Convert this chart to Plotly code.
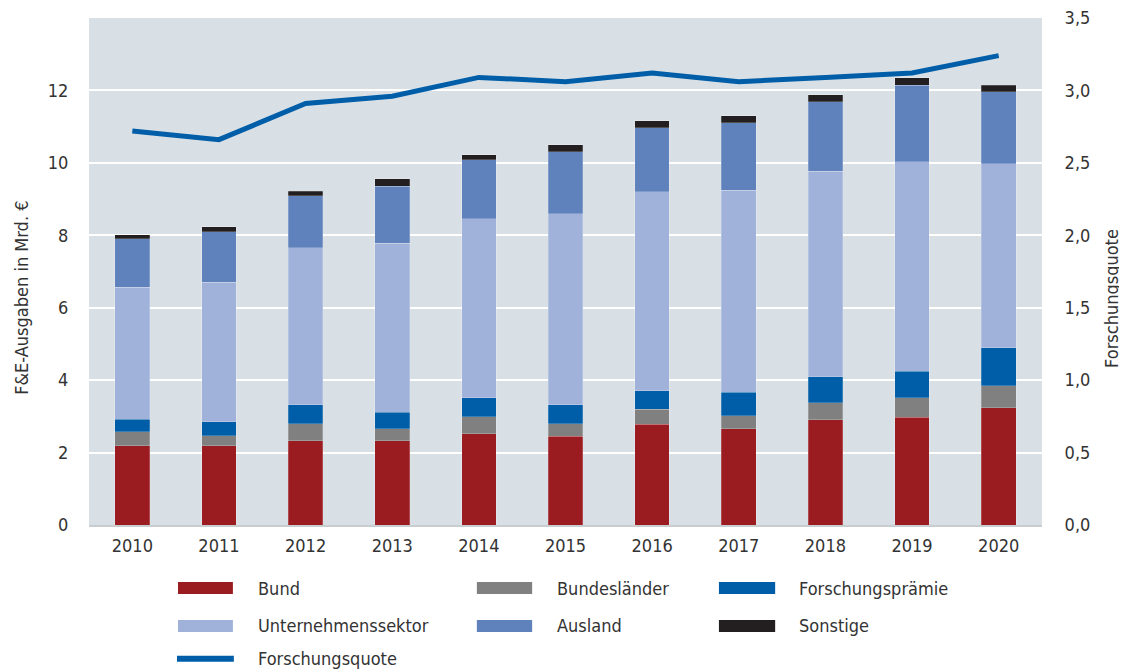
import plotly.graph_objects as go

YEARS = ["2010", "2011", "2012", "2013", "2014", "2015", "2016", "2017", "2018", "2019", "2020"]

# Mrd. € je Finanzierungssektor
BUND = [2.19, 2.19, 2.33, 2.32, 2.52, 2.45, 2.78, 2.66, 2.91, 2.97, 3.24]
LAENDER = [0.39, 0.28, 0.47, 0.34, 0.47, 0.35, 0.41, 0.36, 0.47, 0.55, 0.61]
PRAEMIE = [0.34, 0.38, 0.52, 0.45, 0.53, 0.52, 0.52, 0.64, 0.72, 0.72, 1.05]
UNTERNEHMEN = [3.65, 3.85, 4.33, 4.67, 4.93, 5.27, 5.49, 5.59, 5.67, 5.79, 5.07]
AUSLAND = [1.33, 1.40, 1.44, 1.58, 1.63, 1.71, 1.77, 1.86, 1.92, 2.12, 1.99]
SONSTIGE = [0.12, 0.14, 0.13, 0.20, 0.14, 0.20, 0.19, 0.19, 0.19, 0.20, 0.19]

# Forschungsquote in % des BIP
QUOTE = [2.72, 2.66, 2.91, 2.96, 3.09, 3.06, 3.12, 3.06, 3.09, 3.12, 3.24]

FONT = "DejaVu Sans Condensed, Liberation Sans, sans-serif"
TXT = "#333333"
FS = 18

SERIES = [
    ("Bund", BUND, "#9b1c20"),
    ("Bundesländer", LAENDER, "#808080"),
    ("Forschungsprämie", PRAEMIE, "#005ea8"),
    ("Unternehmenssektor", UNTERNEHMEN, "#a0b2d9"),
    ("Ausland", AUSLAND, "#5f82bc"),
    ("Sonstige", SONSTIGE, "#231f20"),
]
LINE_COLOR = "#005ea8"

fig = go.Figure()
for name, vals, color in SERIES:
    fig.add_trace(go.Bar(
        x=YEARS, y=vals, name=name,
        marker=dict(color=color, line=dict(width=0.6, color="rgba(255,255,255,0.35)")),
        width=0.4, showlegend=False,
    ))

fig.add_trace(go.Scatter(
    x=YEARS, y=QUOTE, name="Forschungsquote", yaxis="y2",
    mode="lines", line=dict(color=LINE_COLOR, width=5),
    showlegend=False,
))

# handgebaute Legende (breite Farbbalken wie im Original)
legend_items = [
    ("Bund", "#9b1c20", 0, 0), ("Bundesländer", "#808080", 1, 0), ("Forschungsprämie", "#005ea8", 2, 0),
    ("Unternehmenssektor", "#a0b2d9", 0, 1), ("Ausland", "#5f82bc", 1, 1), ("Sonstige", "#231f20", 2, 1),
]
col_sym = [(0.0934, 0.151), (0.407, 0.465), (0.661, 0.720)]
col_txt = [0.175, 0.489, 0.743]
row_y = [-0.1243, -0.199, -0.264]
shapes = []
annotations = []
for label, color, c, r in legend_items:
    x0, x1 = col_sym[c]
    y = row_y[r]
    shapes.append(dict(type="rect", xref="paper", yref="paper", x0=x0, x1=x1,
                       y0=y - 0.0118, y1=y + 0.0118, fillcolor=color, line=dict(width=0)))
    annotations.append(dict(xref="paper", yref="paper", x=col_txt[c], y=y, text=label,
                            showarrow=False, xanchor="left", yanchor="middle",
                            font=dict(family=FONT, size=FS, color=TXT)))
shapes.append(dict(type="line", xref="paper", yref="paper", x0=0.0923, x1=0.152,
                   y0=row_y[2], y1=row_y[2], line=dict(color=LINE_COLOR, width=6)))
annotations.append(dict(xref="paper", yref="paper", x=col_txt[0], y=row_y[2], text="Forschungsquote",
                        showarrow=False, xanchor="left", yanchor="middle",
                        font=dict(family=FONT, size=FS, color=TXT)))

# Achsentitel als Annotation (im Original etwas unterhalb der Mitte)
annotations.append(dict(xref="paper", yref="paper", x=-0.0703, y=0.448, text="F&E-Ausgaben in Mrd. €",
                        textangle=-90, showarrow=False, xanchor="center", yanchor="middle",
                        font=dict(family=FONT, size=18, color=TXT)))
annotations.append(dict(xref="paper", yref="paper", x=1.0735, y=0.446, text="Forschungsquote",
                        textangle=-90, showarrow=False, xanchor="center", yanchor="middle",
                        font=dict(family=FONT, size=18, color=TXT)))

# Seite hat 8px body-Rand -> Figur etwas kleiner, Ränder entsprechend
fig.update_layout(
    barmode="stack",
    width=1119, height=662,
    margin=dict(l=81, r=85, t=10, b=145, autoexpand=False),
    paper_bgcolor="white",
    plot_bgcolor="#d8e0e6",
    separators=",.",
    font=dict(family=FONT, size=FS, color=TXT),
    xaxis=dict(showgrid=False, ticks="outside", ticklen=3, tickcolor="rgba(0,0,0,0)",
               showline=True, linecolor="#c8cdd0", linewidth=2),
    yaxis=dict(range=[0, 14], tickvals=[0, 2, 4, 6, 8, 10, 12], showgrid=True,
               gridcolor="white", gridwidth=2, zeroline=False,
               ticks="outside", ticklen=16, tickcolor="rgba(0,0,0,0)"),
    yaxis2=dict(range=[0, 3.5], overlaying="y", side="right", showgrid=False, zeroline=False,
                tickvals=[0, 0.5, 1.0, 1.5, 2.0, 2.5, 3.0, 3.5], tickformat=".1f",
                ticks="outside", ticklen=18, tickcolor="rgba(0,0,0,0)",
                ticklabeloverflow="allow"),
    shapes=shapes,
    annotations=annotations,
    showlegend=False,
)

fig.write_html("out.html")
